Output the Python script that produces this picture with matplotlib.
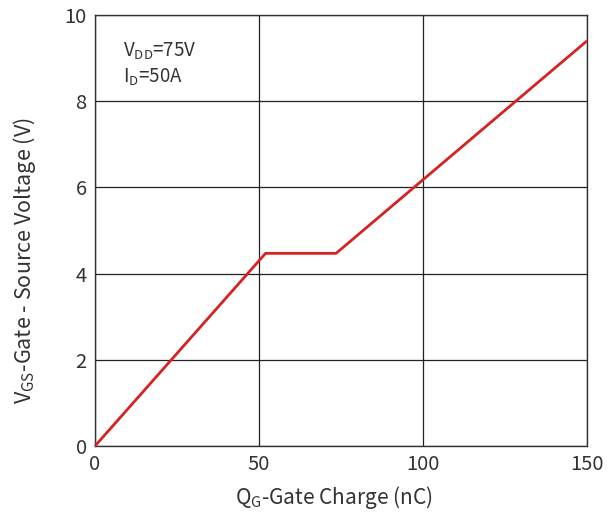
import numpy as np
import matplotlib
matplotlib.use('Agg')
import matplotlib.pyplot as plt

plt.rcParams['font.family'] = ['Noto Sans CJK SC', 'DejaVu Sans']
plt.rcParams['mathtext.fontset'] = 'custom'
plt.rcParams['mathtext.rm'] = 'Noto Sans CJK SC'
plt.rcParams['mathtext.it'] = 'Noto Sans CJK SC'

# gate charge curve
qg = [0, 52, 73.5, 150]
vgs = [0, 4.47, 4.47, 9.40]
xticks = [0, 50, 100, 150]
yticks = [0, 2, 4, 6, 8, 10]

txt_col = '#333333'

fig = plt.figure(figsize=(6.14, 5.19), dpi=100)
ax = fig.add_axes([95/614, 73/519, 492/614, 431/519])

ax.plot(qg, vgs, color='#d42322', lw=2.0, solid_capstyle='butt', zorder=3, clip_on=False)

ax.set_xlim(0, 150)
ax.set_ylim(0, 10)
ax.set_xticks(xticks)
ax.set_yticks(yticks)
ax.grid(True, color='#222222', lw=0.9)
ax.tick_params(length=0, labelsize=14.5, colors=txt_col, pad=6)
for s in ax.spines.values():
    s.set_color('#333333')
    s.set_linewidth(1.0)

ax.set_xlabel(r'Q$_{\mathrm{G}}$-Gate Charge (nC)', fontsize=15, color=txt_col)
ax.set_ylabel(r'V$_{\mathrm{GS}}$-Gate - Source Voltage (V)', fontsize=15.5, color=txt_col)
ax.xaxis.set_label_coords(0.486, -0.088)
ax.yaxis.set_label_coords(-0.115, 0.43)

ax.text(0.057, 0.915, r'V$_{\mathrm{DD}}$=75V', transform=ax.transAxes, fontsize=13.5, color=txt_col, va='center')
ax.text(0.057, 0.855, r'I$_{\mathrm{D}}$=50A', transform=ax.transAxes, fontsize=13.5, color=txt_col, va='center')

fig.savefig('out.png', dpi=100)
